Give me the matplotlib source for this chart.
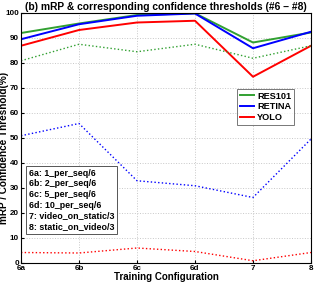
import numpy as np
import matplotlib.pyplot as plt

configs = ['6a', '6b', '6c', '6d', '7', '8']
res101_mrp = [91.8, 95.6, 99.0, 99.7, 88.0, 92.0]
retina_mrp = [89.3, 95.3, 98.7, 99.6, 85.7, 92.3]
yolo_mrp = [86.7, 93.0, 96.0, 96.7, 74.3, 86.7]
res101_thr = [80.7, 87.3, 84.3, 87.3, 81.7, 86.7]
retina_thr = [50.7, 55.6, 32.7, 30.7, 26.0, 49.4]
yolo_thr = [4.0, 3.8, 5.8, 4.4, 0.7, 4.0]

legend_note = ['6a: 1_per_seq/6', '6b: 2_per_seq/6', '6c: 5_per_seq/6',
               '6d: 10_per_seq/6', '7: video_on_static/3', '8: static_on_video/3']

plt.rcParams['font.family'] = ['Liberation Sans', 'DejaVu Sans']
plt.rcParams['font.weight'] = 'bold'

fig = plt.figure(figsize=(3.14, 2.84), dpi=100)
ax = fig.add_axes([21 / 314, 21.5 / 284, 290 / 314, 250 / 284])

x = np.arange(len(configs))
g, b, r = '#31a031', '#0000ff', '#ff0000'
ax.plot(x, res101_mrp, '-', color=g, lw=1.4, label='RES101')
ax.plot(x, retina_mrp, '-', color=b, lw=1.4, label='RETINA')
ax.plot(x, yolo_mrp, '-', color=r, lw=1.4, label='YOLO')
ax.plot(x, res101_thr, ':', color=g, lw=1.0)
ax.plot(x, retina_thr, ':', color=b, lw=1.0)
ax.plot(x, yolo_thr, ':', color=r, lw=1.0)

ax.set_xlim(0, len(configs) - 1)
ax.set_ylim(0, 100)
ax.set_xticks(x)
ax.set_xticklabels(configs)
ax.set_yticks(np.arange(0, 101, 10))
ax.tick_params(labelsize=5.8, length=2, pad=1.5, direction='in')
for lab in ax.get_xticklabels() + ax.get_yticklabels():
    lab.set_family(['Liberation Sans Narrow', 'Liberation Sans'])
ax.grid(True, linestyle=':', color='#c8c8c8', lw=0.7)
ax.set_title('(b) mRP & corresponding confidence thresholds (#6 \u2013 #8)',
             fontsize=7.4, fontweight='bold', pad=2)
ax.set_xlabel('Training Configuration', fontsize=7.0, fontweight='bold', labelpad=0.5)
ax.set_ylabel('mRP / Confidence Threshold(%)', fontsize=7.2, fontweight='bold')
ax.yaxis.set_label_coords(-0.043, 0.46)

leg = ax.legend(loc='upper left', bbox_to_anchor=(0.745, 0.695), fontsize=6.6,
                frameon=True, fancybox=False, handlelength=1.6, borderpad=0.3,
                labelspacing=0.2, handletextpad=0.3, borderaxespad=0)
leg.get_frame().set_edgecolor('#555555')
leg.get_frame().set_linewidth(0.7)

ax.text(0.028, 0.125, '\n'.join(legend_note), transform=ax.transAxes, fontsize=6.4,
        fontweight='bold', va='bottom', ha='left', linespacing=1.25,
        bbox=dict(boxstyle='square,pad=0.3', fc='white', ec='#555555', lw=0.7))

fig.savefig('out.png', dpi=100)
